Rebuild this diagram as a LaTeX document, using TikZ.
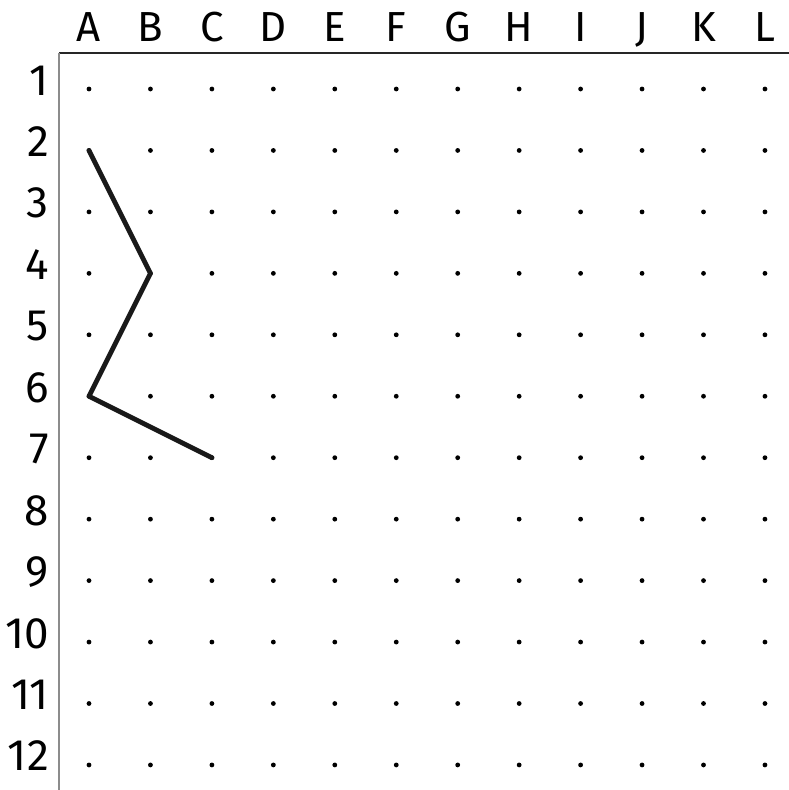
\documentclass[tikz,border=0pt]{standalone}
\usepackage{fontspec}
\setmainfont{Fira Sans}
\begin{document}
\begin{tikzpicture}[x=1pt,y=-1pt,
  collabel/.style={font=\fontsize{42}{42}\selectfont, anchor=base, inner sep=0pt},
  rowlabel/.style={font=\fontsize{44}{44}\selectfont, anchor=base east, inner sep=0pt},
  dotmark/.style={fill=black},
  pathline/.style={line width=4.8pt, black!90, line join=round, line cap=round}]
\useasboundingbox (0,0) rectangle (789,790);
% axes
\draw[line width=2.2pt, black!85] (59,53) -- (789,53);
\draw[line width=2.2pt, black!45] (59,53) -- (59,790);
% column labels
\foreach \l [count=\i from 0] in {A,B,C,D,E,F,G,H,I,J,K,L}
  \node[collabel] (col\l) at ({89+61.45*\i},41) {\l};
% row labels
\foreach \r [count=\j from 0] in {1,...,12}
  \node[rowlabel] (row\r) at (49,{95+61.45*\j}) {\r};
% dots
\foreach \i in {0,...,11}
  \foreach \j in {0,...,11}
    \fill[dotmark] ({89+61.45*\i},{89+61.45*\j}) circle (2.4);
% named points
\coordinate (A2) at (89,150.45);
\coordinate (B4) at (150.45,273.35);
\coordinate (A6) at (89,396.25);
\coordinate (C7) at (211.9,457.7);
\draw[pathline] (A2) -- (B4) -- (A6) -- (C7);
\end{tikzpicture}
\end{document}
